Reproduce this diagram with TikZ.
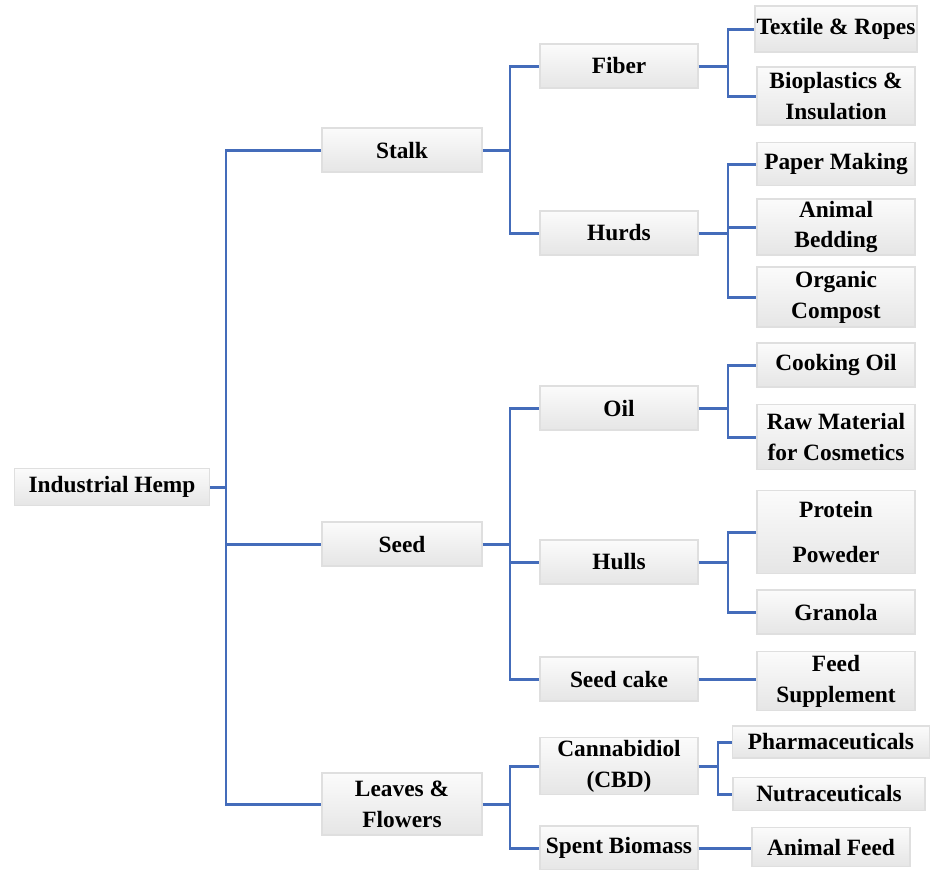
\documentclass[tikz,border=0pt]{standalone}
\usepackage{fontspec}
\setmainfont{Liberation Serif}
\usetikzlibrary{calc}
\definecolor{linkblue}{RGB}{68,108,186}
\tikzset{
  usebox/.style={rectangle, draw=gray!25, line width=0.8pt, minimum width=3.16cm, minimum height=0.88cm, align=center, font=\fontsize{13.3}{17.5}\selectfont\bfseries, inner sep=1pt, fill=gray!15,
    path picture={
      \coordinate (bnw) at (path picture bounding box.north west);
      \coordinate (bne) at (path picture bounding box.north east);
      \coordinate (bsw) at (path picture bounding box.south west);
      \coordinate (bse) at (path picture bounding box.south east);
      \fill[gray!45] (bsw) -- ($(bsw)+(0.14,0.14)$) -- ($(bse)+(-0.14,0.14)$) -- (bse) -- cycle;
      \fill[gray!32] (bse) -- ($(bse)+(-0.14,0.14)$) -- ($(bne)+(-0.14,-0.14)$) -- (bne) -- cycle;
      \fill[gray!5] (bnw) -- ($(bnw)+(0.14,-0.14)$) -- ($(bne)+(-0.14,-0.14)$) -- (bne) -- cycle;
      \fill[gray!28] (bnw) -- ($(bnw)+(0.14,-0.14)$) -- ($(bsw)+(0.14,0.14)$) -- (bsw) -- cycle;
      \shade[top color=gray!3, bottom color=gray!20] ($(bnw)+(0.14,-0.14)$) rectangle ($(bse)+(-0.14,0.14)$);
    }},
  link/.style={draw=linkblue, line width=1.7pt},
}
\begin{document}
\begin{tikzpicture}[x=0.02cm, y=-0.02cm]
\useasboundingbox (0,0) rectangle (931,870);
% level 0 and 1
\node[usebox, minimum width=3.9cm, minimum height=0.74cm] (hemp) at (112,487) {Industrial Hemp};
\node[usebox, minimum width=3.2cm] (stalk) at (402,150) {Stalk};
\node[usebox, minimum width=3.2cm] (seed) at (402,544) {Seed};
\node[usebox, minimum width=3.2cm, minimum height=1.24cm] (leaves) at (402,804) {Leaves \&\\Flowers};
% level 2
\node[usebox] (fiber) at (619,66) {Fiber};
\node[usebox] (hurds) at (619,233) {Hurds};
\node[usebox] (oil) at (619,408) {Oil};
\node[usebox] (hulls) at (619,562) {Hulls};
\node[usebox] (seedcake) at (619,679) {Seed cake};
\node[usebox, minimum height=1.14cm] (cbd) at (619,766) {Cannabidiol\\(CBD)};
\node[usebox] (spent) at (619,848) {Spent Biomass};
% level 3
\node[usebox, minimum height=0.92cm] (textile) at (836,29) {Textile \& Ropes};
\node[usebox, minimum height=1.16cm] (bioplast) at (836,96) {Bioplastics \&\\Insulation};
\node[usebox, minimum height=0.86cm] (paper) at (836,164) {Paper Making};
\node[usebox, minimum height=0.98cm] (bedding) at (836,227) {Animal\\Bedding};
\node[usebox, minimum height=1.2cm] (compost) at (836,297) {Organic\\Compost};
\node[usebox] (cookoil) at (836,365) {Cooking Oil};
\node[usebox, minimum height=1.3cm] (cosmetic) at (836,437) {Raw Material\\for Cosmetics};
\node[usebox, minimum height=1.66cm] (protein) at (836,532) {Protein\\[8pt]Poweder};
\node[usebox] (granola) at (836,612) {Granola};
\node[usebox, minimum height=1.18cm] (feedsup) at (836,681) {Feed\\Supplement};
\node[usebox, minimum width=3.94cm, minimum height=0.64cm] (pharma) at (831,742) {Pharmaceuticals};
\node[usebox, minimum width=3.84cm, minimum height=0.66cm] (nutra) at (829,794) {Nutraceuticals};
\node[usebox, minimum height=0.78cm] (animalfeed) at (831,847) {Animal Feed};
% junctions
\coordinate (jhemp) at (226,487);
\coordinate (jstalk) at (510,150);
\coordinate (jseed) at (510,544);
\coordinate (jleaves) at (510,804);
\coordinate (jfiber) at (728,66);
\coordinate (jhurds) at (728,233);
\coordinate (joil) at (728,408);
\coordinate (jhulls) at (728,562);
\coordinate (jcbd) at (718,766);
% connectors
\draw[link] (hemp.east) -- (jhemp);
\foreach \c in {stalk,seed,leaves} \draw[link] (jhemp) |- (\c.west);
\draw[link] (stalk.east) -- (jstalk);
\foreach \c in {fiber,hurds} \draw[link] (jstalk) |- (\c.west);
\draw[link] (seed.east) -- (jseed);
\foreach \c in {oil,hulls,seedcake} \draw[link] (jseed) |- (\c.west);
\draw[link] (leaves.east) -- (jleaves);
\foreach \c in {cbd,spent} \draw[link] (jleaves) |- (\c.west);
\draw[link] (fiber.east) -- (jfiber);
\foreach \c in {textile,bioplast} \draw[link] (jfiber) |- (\c.west);
\draw[link] (hurds.east) -- (jhurds);
\foreach \c in {paper,bedding,compost} \draw[link] (jhurds) |- (\c.west);
\draw[link] (oil.east) -- (joil);
\foreach \c in {cookoil,cosmetic} \draw[link] (joil) |- (\c.west);
\draw[link] (hulls.east) -- (jhulls);
\foreach \c in {protein,granola} \draw[link] (jhulls) |- (\c.west);
\draw[link] (seedcake.east) -- (seedcake.east -| feedsup.west);
\draw[link] (cbd.east) -- (jcbd);
\foreach \c in {pharma,nutra} \draw[link] (jcbd) |- (\c.west);
\draw[link] (spent.east) -- (spent.east -| animalfeed.west);
\end{tikzpicture}
\end{document}
